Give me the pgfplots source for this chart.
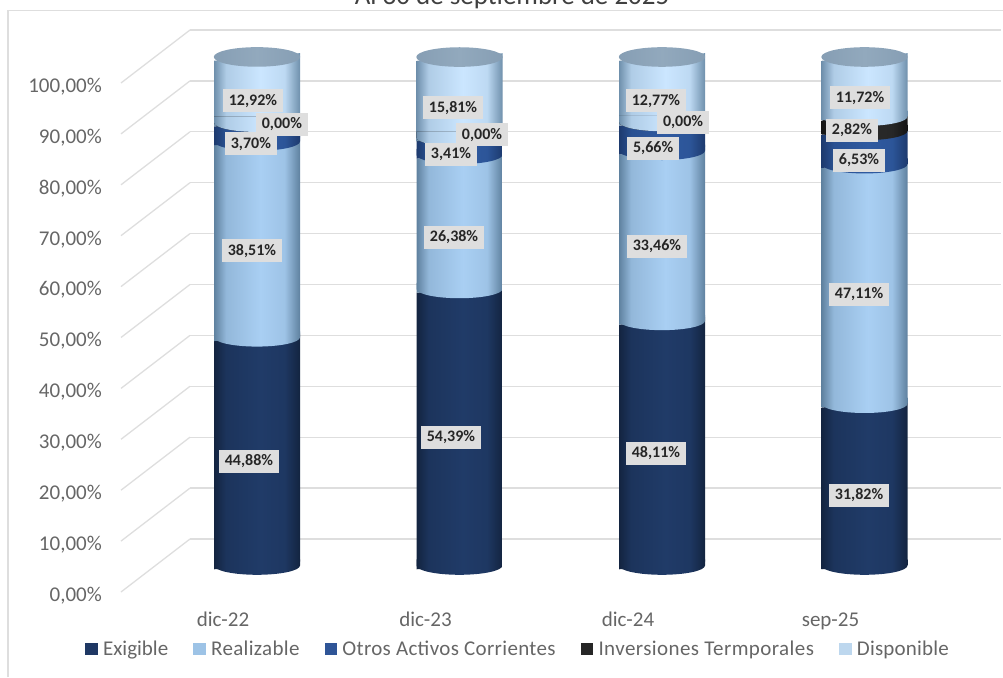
\documentclass[border=0pt]{standalone}
\usepackage{fontspec}
\setmainfont{Carlito}
\usepackage{pgfplots}
\usepackage{pgfplotstable}
\pgfplotsset{compat=1.18}

\definecolor{gridc}{HTML}{DEDEDE}
\definecolor{textc}{HTML}{666666}
\definecolor{boxc}{HTML}{DEDEDE}
\definecolor{cexi}{HTML}{1F3864}
\definecolor{crea}{HTML}{9DC3E6}
\definecolor{cotr}{HTML}{2F5597}
\definecolor{cinv}{HTML}{262626}
\definecolor{cdis}{HTML}{BDD7EE}
% edge and peak of the cylinder shading
\definecolor{exiE}{HTML}{132440}\definecolor{exiP}{HTML}{203B68}
\definecolor{reaE}{HTML}{5F819F}\definecolor{reaP}{HTML}{A9CFF3}
\definecolor{otrE}{HTML}{1D3A6E}\definecolor{otrP}{HTML}{2F5AA0}
\definecolor{invE}{HTML}{141414}\definecolor{invP}{HTML}{2A2A2A}
\definecolor{disE}{HTML}{6F90AC}\definecolor{disP}{HTML}{CBE6FF}
\definecolor{capE}{HTML}{869EB4}\definecolor{capP}{HTML}{92A9BD}

% tikz only shows 25bp to 75bp of a shading
\newcommand{\cylshade}[3]{%
  \pgfdeclarehorizontalshading{s#1}{100bp}{color(0bp)=(#2); color(25bp)=(#2);
    color(32bp)=(#3!70!#2); color(52bp)=(#3); color(66bp)=(#3!85!#2);
    color(75bp)=(#2); color(100bp)=(#2)}%
  % marks come out above all the bands: lower half of the rim, plus a strip above it to close the seam
  \pgfdeclareplotmark{e#1}{\path[shade,shading=s#1,rotate=5] (-43pt,0pt) arc[start angle=180,end angle=360,x radius=43pt,y radius=9.3pt] -- (43pt,6pt) -- (-43pt,6pt) -- cycle;}%
}
\cylshade{exi}{exiE}{exiP}
\cylshade{rea}{reaE}{reaP}
\cylshade{otr}{otrE}{otrP}
\cylshade{inv}{invE}{invP}
\cylshade{dis}{disE}{disP}
\pgfdeclarehorizontalshading{scap}{100bp}{color(0bp)=(capE); color(25bp)=(capE); color(50bp)=(capP); color(75bp)=(capE); color(100bp)=(capE)}
\pgfdeclareplotmark{ecap}{\path[shade,shading=scap,rotate=5] (43.2pt,0pt) arc[start angle=0,end angle=360,x radius=43.2pt,y radius=9.8pt] -- cycle;}

% base column only tilts the bands, the rest are the chart's values
\pgfplotstableread{
x base exi rea otr inv dis
-1 -0.75 44.88 38.51 3.70 0.00 12.92
0 0 44.88 38.51 3.70 0.00 12.92
1 0.75 44.88 38.51 3.70 0.00 12.92
}\dicA
\pgfplotstableread{
x base exi rea otr inv dis
-1 -0.75 54.39 26.38 3.41 0.00 15.81
0 0 54.39 26.38 3.41 0.00 15.81
1 0.75 54.39 26.38 3.41 0.00 15.81
}\dicB
\pgfplotstableread{
x base exi rea otr inv dis
-1 -0.75 48.11 33.46 5.66 0.00 12.77
0 0 48.11 33.46 5.66 0.00 12.77
1 0.75 48.11 33.46 5.66 0.00 12.77
}\dicC
\pgfplotstableread{
x base exi rea otr inv dis
-1 -0.75 31.82 47.11 6.53 2.82 11.72
0 0 31.82 47.11 6.53 2.82 11.72
1 0.75 31.82 47.11 6.53 2.82 11.72
}\sepD
% label boxes sit where the chart has them, not at the band centres
\pgfplotstableread{
x y t
-0.04 20.55 44,88
-0.025 61.85 38,51
-0.03 82.89 3,70
0.123 86.82 0,00
-0.02 91.35 12,92
0.958 25.27 54,39
0.973 64.6 26,38
0.958 80.92 3,41
1.111 84.66 0,00
0.968 89.97 15,81
1.970 22.12 48,11
1.975 62.83 33,46
1.956 82.1 5,66
2.104 87.2 0,00
1.970 91.35 12,77
2.973 13.86 31,82
2.973 53.39 47,11
2.973 79.74 6,53
2.938 85.64 2,82
2.978 91.94 11,72
}\etiquetas

\newcommand{\cilindro}[2]{%
\begin{axis}[hide axis, scale only axis, width=86pt, height=508.5pt, clip=false,
    xmin=-1, xmax=1, ymin=0, ymax=100, stack plots=y, reverse stacked plots=false, at={(#1pt,111.5pt)}]
\addplot[draw=none, mark=eexi, mark indices={2}] table[x=x,y=base] {#2};
\addplot[draw=none, shade, shading=sexi, mark=erea, mark indices={2}] table[x=x,y=exi] {#2} \closedcycle;
\addplot[draw=none, shade, shading=srea, mark=eotr, mark indices={2}] table[x=x,y=rea] {#2} \closedcycle;
\addplot[draw=none, shade, shading=sotr, mark=einv, mark indices={2}] table[x=x,y=otr] {#2} \closedcycle;
\addplot[draw=none, shade, shading=sinv, mark=edis, mark indices={2}] table[x=x,y=inv] {#2} \closedcycle;
\addplot[draw=none, shade, shading=sdis, mark=ecap, mark indices={2}] table[x=x,y=dis] {#2} \closedcycle;
\end{axis}%
}

\begin{document}
\begin{tikzpicture}
\path[use as bounding box] (0,0) rectangle (1003pt,677pt);
\draw[gridc, line width=1.6pt] (8pt,0pt) -- (8pt,666.5pt) -- (1003pt,666.5pt);
\node[anchor=base, text=black!75, font=\fontsize{27}{30}\selectfont] at (512pt,672pt) {Al 30 de septiembre de 2025};

% back wall, with the value labels moved to the front edge
\begin{axis}[scale only axis, width=811pt, height=509pt, at={(190pt,138pt)}, clip=false,
    xmin=0, xmax=1, ymin=0, ymax=100,
    axis line style={draw=none}, xtick=\empty, ymajorgrids,
    ytick={0,10,...,100},
    yticklabels={{0,00\%},{10,00\%},{20,00\%},{30,00\%},{40,00\%},{50,00\%},{60,00\%},{70,00\%},{80,00\%},{90,00\%},{100,00\%}},
    major tick length=0pt,
    grid style={gridc, line width=1.3pt},
    yticklabel style={anchor=east, inner sep=0pt, xshift=-88pt, yshift=-56.5pt, text=textc, font=\fontsize{21}{21}\selectfont},
    ]
\pgfplotsinvokeforeach{0,10,...,100}{\draw[gridc, line width=1.3pt] (axis cs:0,#1) -- ++(-69pt,-53pt);}
\end{axis}

\cilindro{214}{\dicA}
\cilindro{416.5}{\dicB}
\cilindro{619}{\dicC}
\cilindro{821.5}{\sepD}

% labels, categories and legend over the cylinders
\begin{axis}[hide y axis, axis x line*=bottom, x axis line style={draw=none},
    scale only axis, width=607.5pt, height=508.5pt, at={(257pt,111.5pt)}, clip=false,
    xmin=0, xmax=3, ymin=0, ymax=100,
    xtick={0,1,2,3}, xticklabels={dic-22,dic-23,dic-24,sep-25},
    major tick length=0pt,
    xticklabel style={anchor=base, inner sep=0pt, xshift=-34pt, yshift=-60.5pt, text=textc, font=\fontsize{21}{21}\selectfont},
    legend image code/.code={\fill[#1] (0pt,-5.5pt) rectangle (11.5pt,5.5pt);},
    legend columns=5,
    legend cell align=left,
    legend style={at={(-0.2831,-0.1642)}, anchor=west, draw=none, fill=none, inner sep=0pt,
        font=\fontsize{21}{21}\selectfont, text=textc,
        /tikz/every even column/.append style={column sep=25pt},
        /tikz/every odd column/.append style={column sep=6pt},
        nodes={inner sep=0pt}},
    ]
\addlegendimage{cexi}\addlegendentry{Exigible}
\addlegendimage{crea}\addlegendentry{\addfontfeature{LetterSpace=1.5}Realizable}
\addlegendimage{cotr}\addlegendentry{\addfontfeature{LetterSpace=1.6}Otros Activos Corrientes}
\addlegendimage{cinv}\addlegendentry{\addfontfeature{LetterSpace=2}Inversiones Termporales}
\addlegendimage{cdis}\addlegendentry{\addfontfeature{LetterSpace=1}Disponible}
\addplot[draw=none, mark=none, point meta=explicit symbolic,
    nodes near coords={\pgfplotspointmeta\%},
    nodes near coords align=center,
    nodes near coords style={fill=boxc, text=black!85, anchor=center, inner xsep=6pt, inner ysep=0pt,
        minimum height=23pt, font=\fontsize{16}{16}\bfseries}]
    table[x=x,y=y,meta=t] {\etiquetas};
\end{axis}
\end{tikzpicture}
\end{document}
